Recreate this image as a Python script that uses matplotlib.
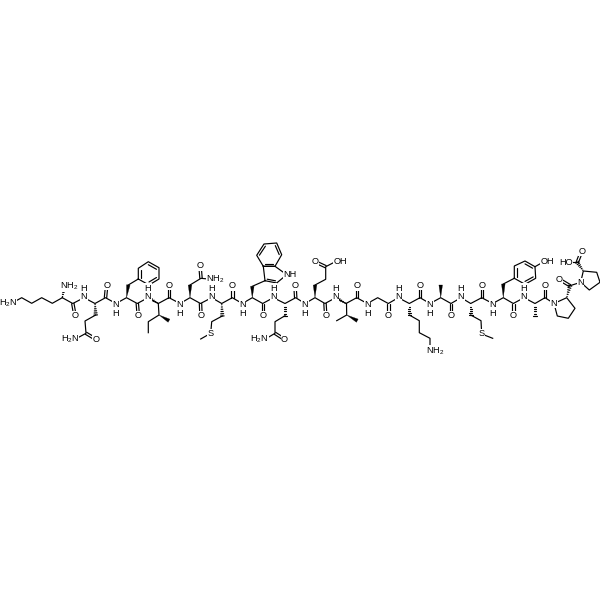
import matplotlib
matplotlib.use("Agg")
import matplotlib.pyplot as plt
import numpy as np

plt.rcParams["font.family"] = ["Liberation Sans", "DejaVu Sans"]
plt.rcParams["mathtext.fontset"] = "custom"
plt.rcParams["mathtext.rm"] = "Liberation Sans"
plt.rcParams["mathtext.default"] = "rm"

# backbone atoms, Lys1 alpha carbon to Pro17 nitrogen
backbone_x = [62.3, 72.8, 84.0, 95.0, 105.5, 116.0, 126.5, 137.3, 148.0, 158.3, 169.0, 180.0,
              190.0, 200.5, 211.7, 221.7, 232.3, 242.3, 252.3, 262.7, 273.3, 285.0, 295.7, 305.0,
              315.0, 325.0, 335.7, 346.0, 356.7, 367.3, 377.7, 388.3, 398.3, 409.3, 420.0, 430.0,
              440.7, 451.0, 461.0, 470.7, 481.7, 492.7, 503.3, 513.3, 524.0, 535.0, 545.0, 554.0]
backbone_y = [297.7, 303.5, 297.7, 303.5, 297.7, 303.5, 297.7, 303.5, 297.7, 303.5, 297.7, 303.5,
              297.7, 303.5, 297.7, 303.5, 297.7, 303.5, 297.7, 303.5, 297.7, 303.5, 297.7, 303.5,
              297.7, 303.5, 297.7, 303.5, 297.7, 303.5, 297.7, 303.5, 297.7, 303.5, 297.7, 303.5,
              297.7, 303.5, 297.7, 303.5, 297.7, 303.5, 297.7, 303.5, 297.7, 303.5, 297.7, 303.5]

# carbonyl oxygens: index of the carbon on the backbone, oxygen position
carbonyl_idx = [1, 4, 7, 10, 13, 16, 19, 22, 25, 28, 31, 34, 37, 40, 43, 46]
carbonyl_ox = [75.0, 106.7, 138.3, 169.0, 201.0, 232.3, 262.7, 295.0, 325.7, 356.7, 388.3, 420.0, 451.0, 481.7, 513.3, 545.0]
carbonyl_oy = [315.7, 285.0, 315.7, 285.7, 315.7, 286.0, 315.7, 286.0, 315.7, 286.0, 315.7, 285.0, 315.7, 285.0, 315.7, 285.0]

# backbone amide nitrogens drawn as N with an H above or below
amide_idx = [2, 5, 8, 11, 14, 17, 20, 23, 26, 29, 32, 35, 38, 41, 44]

# side chains as plain polylines
lys1_chain = [(62.3, 297.7), (52.3, 303.3), (41.7, 297.7), (31.7, 303.3), (21.7, 297.7), (11.5, 303.3)]
gln2_chain = [(95.7, 315.0), (85.0, 321.0), (86.0, 333.3), (75.0, 339.3)]
phe3_chain = [(128.3, 285.0), (138.3, 279.0)]
phe3_ring = [(138.3, 279.0), (138.3, 268.3), (148.3, 261.7), (159.0, 267.7), (159.0, 279.0), (149.0, 285.0)]
ile4_chain = [(158.3, 303.5), (159.0, 315.0), (148.3, 321.7), (148.3, 332.7)]
asn5_chain = [(190.0, 285.0), (201.0, 278.3), (211.0, 279.3)]
met6_chain = [(222.3, 316.0), (211.7, 321.7), (210.7, 333.3), (200.7, 339.0)]
trp7_chain = [(252.3, 286.3), (265.0, 280.7)]
trp7_five = [(265.0, 280.7), (263.3, 266.3), (275.0, 266.3), (286.7, 274.7), (276.7, 283.0)]
trp7_six = [(263.3, 266.3), (256.7, 255.3), (264.0, 244.0), (276.7, 243.0), (281.7, 254.7), (275.0, 266.3)]
gln8_chain = [(285.0, 315.7), (275.0, 321.7), (275.0, 333.3), (265.0, 339.3)]
glu9_chain = [(315.0, 285.0), (325.7, 279.3), (325.7, 266.7), (336.7, 261.0)]
val10_chain = [(346.5, 303.5), (346.7, 315.0), (336.7, 320.7)]
lys12_chain = [(409.3, 315.0), (419.3, 320.7), (419.3, 332.7), (430.0, 338.3), (430.0, 350.7)]
met14_chain = [(470.7, 315.0), (481.0, 320.7), (481.7, 334.0), (492.7, 338.3)]
tyr15_chain = [(503.3, 284.0), (514.3, 278.3)]
tyr15_ring = [(514.3, 278.3), (514.3, 266.0), (525.0, 261.0), (535.0, 266.7), (535.7, 278.3), (525.0, 284.3)]
tyr15_oh = [(535.0, 266.7), (545.0, 261.0)]
pro17_ring = [(554.0, 303.5), (566.7, 297.7), (575.0, 308.3), (568.3, 318.3), (557.3, 316.0)]
pro18_ring = [(580.7, 282.3), (583.3, 271.0), (596.7, 272.3), (600.0, 282.3), (589.3, 290.0)]

# stereo bonds, (start, end)
solid_wedges = [((126.5, 297.7), (128.3, 285.0)), ((159.0, 315.0), (169.0, 320.7)),
                ((190.0, 297.7), (190.0, 285.0)), ((252.3, 297.7), (252.3, 286.3)),
                ((315.0, 297.7), (315.0, 285.0)), ((346.7, 315.0), (357.3, 320.7)),
                ((440.7, 297.7), (440.7, 285.0)), ((503.3, 297.7), (503.3, 284.0))]
hash_wedges = [((62.3, 297.7), (64.5, 286.0)), ((95.0, 303.5), (95.7, 315.0)),
               ((221.7, 303.5), (222.3, 316.0)), ((285.0, 303.5), (285.0, 315.7)),
               ((409.3, 303.5), (409.3, 315.0)), ((470.7, 303.5), (470.7, 315.0)),
               ((535.0, 303.5), (535.0, 315.7)), ((566.7, 297.7), (570.0, 285.7)),
               ((583.3, 271.0), (577.3, 262.3)), ((158.3, 303.5), (148.0, 297.7)),
               ((346.0, 303.5), (335.7, 297.7))]

# double bonds other than the backbone carbonyls
double_bonds = [((86.0, 333.3), (96.0, 339.3)), ((201.0, 278.3), (200.0, 266.0)),
                ((275.0, 333.3), (284.3, 339.3)), ((325.7, 266.7), (315.0, 261.7)),
                ((570.0, 285.7), (559.3, 279.3)), ((577.3, 262.3), (581.7, 251.0))]
single_bonds = [((570.0, 285.7), (580.7, 282.3)), ((577.3, 262.3), (568.0, 262.3))]
# inner lines of the aromatic rings
aromatic_inner = [((148.3, 264.7), (156.5, 269.3)), ((156.5, 277.5), (149.0, 282.0)), ((140.8, 277.5), (140.8, 270.0)),
                  ((267.2, 279.2), (275.5, 280.8)),
                  ((259.4, 255.2), (265.4, 246.2)), ((275.3, 245.6), (279.2, 254.6)), ((273.4, 263.8), (264.8, 263.8)),
                  ((516.8, 277.0), (516.8, 267.5)), ((525.0, 263.9), (532.6, 268.2)), ((533.2, 276.9), (525.0, 281.4))]

label_text = ["H$_2$N", "NH$_2$", "H$_2$N", "NH$_2$", "S", "NH", "H$_2$N", "OH", "NH$_2$", "S", "OH", "HO", "N", "N"]
label_x = [17.0, 60.5, 79.0, 206.5, 210.7, 283.2, 268.5, 333.2, 426.5, 481.7, 540.5, 572.5, 554.0, 580.7]
label_y = [303.3, 286.0, 339.3, 279.3, 333.3, 274.7, 339.3, 261.0, 351.0, 334.0, 261.0, 262.3, 303.5, 282.3]
label_ha = ["right", "left", "right", "left", "center", "left", "right", "left", "left", "center", "left", "right", "center", "center"]

oxygen_x = [96.0, 200.0, 284.3, 315.0, 559.3, 581.7]
oxygen_y = [339.3, 266.0, 339.3, 261.7, 279.3, 251.0]

ink = "black"
line_w = 0.85
font_pt = 6.6


def draw_line(ax, a, b):
    ax.plot([a[0], b[0]], [a[1], b[1]], color=ink, lw=line_w, solid_capstyle="round", zorder=1)


def draw_path(ax, pts, closed=False):
    pts = list(pts)
    if closed:
        pts = pts + [pts[0]]
    ax.plot([p[0] for p in pts], [p[1] for p in pts], color=ink, lw=line_w,
            solid_joinstyle="round", zorder=1)


def draw_double(ax, a, b, gap=1.2):
    a, b = np.array(a), np.array(b)
    d = b - a
    n = np.array([-d[1], d[0]]) / np.hypot(*d) * gap
    draw_line(ax, a + n, b + n)
    draw_line(ax, a - n, b - n)


def draw_wedge(ax, a, b, width=1.8):
    a, b = np.array(a), np.array(b)
    d = b - a
    n = np.array([-d[1], d[0]]) / np.hypot(*d) * width
    ax.fill([a[0], b[0] + n[0], b[0] - n[0]], [a[1], b[1] + n[1], b[1] - n[1]],
            color=ink, lw=0.2, zorder=1)


def draw_hash(ax, a, b, width=1.8, steps=6):
    a, b = np.array(a), np.array(b)
    d = b - a
    n = np.array([-d[1], d[0]]) / np.hypot(*d) * width
    for t in np.linspace(0.1, 1.0, steps):
        p = a + d * t
        draw_line(ax, p + n * t, p - n * t)


def draw_label(ax, x, y, s, ha="center"):
    ax.text(x, y, s, ha=ha, va="center", fontsize=font_pt, color=ink, zorder=3,
            bbox=dict(facecolor="white", edgecolor="none", pad=0.2))


fig = plt.figure(figsize=(6, 6), dpi=100)
ax = fig.add_axes([0, 0, 1, 1])
ax.set_xlim(0, 600)
ax.set_ylim(600, 0)
ax.axis("off")

draw_path(ax, zip(backbone_x, backbone_y))

for idx, ox, oy in zip(carbonyl_idx, carbonyl_ox, carbonyl_oy):
    draw_double(ax, (backbone_x[idx], backbone_y[idx]), (ox, oy))
    draw_label(ax, ox, oy, "O")

for idx in amide_idx:
    x, y = backbone_x[idx], backbone_y[idx]
    # one text holds both letters, H above or below the N
    if y < 300:
        ax.text(x, y + 3.6, "H\nN", ha="center", va="bottom", fontsize=font_pt, color=ink, zorder=3,
                linespacing=0.95, bbox=dict(facecolor="white", edgecolor="none", pad=0.2))
    else:
        ax.text(x, y - 3.6, "N\nH", ha="center", va="top", fontsize=font_pt, color=ink, zorder=3,
                linespacing=0.95, bbox=dict(facecolor="white", edgecolor="none", pad=0.2))

for chain in [lys1_chain, gln2_chain, phe3_chain, ile4_chain, asn5_chain, met6_chain, trp7_chain,
              gln8_chain, glu9_chain, val10_chain, lys12_chain, met14_chain, tyr15_chain, tyr15_oh]:
    draw_path(ax, chain)
for ring in [phe3_ring, trp7_five, trp7_six, tyr15_ring, pro17_ring, pro18_ring]:
    draw_path(ax, ring, closed=True)

for a, b in solid_wedges:
    draw_wedge(ax, a, b)
for a, b in hash_wedges:
    draw_hash(ax, a, b)
for a, b in double_bonds:
    draw_double(ax, a, b)
for a, b in single_bonds:
    draw_line(ax, a, b)
for a, b in aromatic_inner:
    draw_line(ax, a, b)

for x, y in zip(oxygen_x, oxygen_y):
    draw_label(ax, x, y, "O")
for s, x, y, ha in zip(label_text, label_x, label_y, label_ha):
    draw_label(ax, x, y, s, ha)

fig.savefig("out.png", dpi=100, facecolor="white")
